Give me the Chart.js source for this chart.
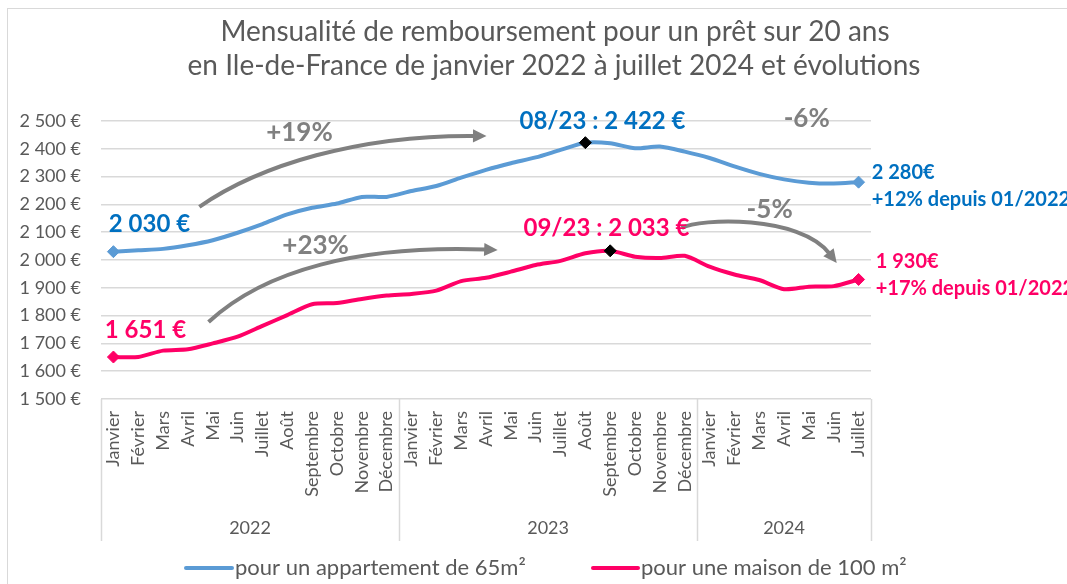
<!DOCTYPE html>
<html>
<head>
<meta charset="utf-8">
<script src="https://cdn.jsdelivr.net/npm/chart.js@4.4.1/dist/chart.umd.min.js"></script>
<style>
  html, body { margin: 0; padding: 0; background: #ffffff; }
  #wrap { position: relative; width: 1067px; height: 584px; }
</style>
</head>
<body>
<div id="wrap"><canvas id="chart"></canvas></div>
<script>
// Data
const years = ['2022', '2023', '2024'];
const yearMonths = [12, 12, 7];
const months = ['Janvier', 'Février', 'Mars', 'Avril', 'Mai', 'Juin', 'Juillet', 'Août',
  'Septembre', 'Octobre', 'Novembre', 'Décembre'];
const labels = years.flatMap((y, i) => months.slice(0, yearMonths[i]));

const appartement = [2030, 2035, 2040, 2053, 2071, 2098, 2129, 2164, 2188, 2203, 2227, 2227,
  2248, 2266, 2296, 2324, 2348, 2369, 2396, 2422, 2420, 2402, 2408, 2390,
  2367, 2337, 2310, 2290, 2278, 2275, 2280];
const maison = [1651, 1651, 1674, 1679, 1700, 1724, 1763, 1802, 1841, 1845, 1860, 1872,
  1878, 1890, 1924, 1936, 1958, 1982, 1997, 2024, 2033, 2012, 2007, 2015,
  1976, 1948, 1928, 1895, 1904, 1906, 1930];
const seriesNames = ['pour un appartement de 65m²', 'pour une maison de 100 m²'];
const peakIndex = [19, 20];

const yMin = 1500, yMax = 2500, yStep = 100;

// Colours
const BLUE_LINE = '#5B9BD5';
const BLUE_TEXT = '#0070C0';
const RED = '#FF0066';
const GREY = '#808080';
const TEXT = '#595959';
const GRID = '#D9D9D9';
const FONT = 'Lato, "Open Sans", sans-serif';

// Annotations, anchored in (category index, value) space
const notes = [
  { text: '2 030 €', at: [1.45, 2129], color: BLUE_TEXT, size: 24, align: 'center' },
  { text: '1 651 €', at: [1.29, 1748], color: RED, size: 24, align: 'center' },
  { text: '08/23 : 2 422 €', at: [19.69, 2500], color: BLUE_TEXT, size: 24, align: 'center' },
  { text: '09/23 : 2 033 €', at: [19.85, 2115], color: RED, size: 24, align: 'center' },
  { text: '+19%', at: [7.49, 2457], color: GREY, size: 26, align: 'center' },
  { text: '+23%', at: [8.14, 2050], color: GREY, size: 26, align: 'center' },
  { text: '-6%', at: [27.91, 2507], color: GREY, size: 26, align: 'center' },
  { text: '-5%', at: [26.42, 2180], color: GREY, size: 26, align: 'center' },
  { text: '2 280€', at: [30.53, 2313], color: BLUE_TEXT, size: 20, align: 'left' },
  { text: '+12% depuis 01/2022', at: [30.53, 2216], color: BLUE_TEXT, size: 20, align: 'left' },
  { text: '1 930€', at: [30.69, 1993], color: RED, size: 20, align: 'left' },
  { text: '+17% depuis 01/2022', at: [30.69, 1899], color: RED, size: 20, align: 'left' }
];
const arrows = [
  { from: [3.46, 2191], c1: [5.88, 2342], c2: [9.91, 2450], to: [15.02, 2446] },
  { from: [3.83, 1777], c1: [6.08, 1964], c2: [9.91, 2054], to: [15.47, 2036] },
  { from: [22.88, 2115], c1: [23.60, 2151], c2: [27.63, 2162], to: [29.12, 1989] }
];

function euro(v) {
  return String(v).replace(/\B(?=(\d{3})+(?!\d))/g, ' ') + ' €';
}

const extras = {
  id: 'extras',
  beforeDraw(chart) {
    const c = chart.ctx;
    c.save();
    c.fillStyle = '#ffffff';
    c.fillRect(0, 0, chart.width, chart.height);
    // frame of the chart object
    c.strokeStyle = GRID;
    c.lineWidth = 1;
    c.strokeRect(7.5, 8.5, chart.width + 10, chart.height + 10);
    c.restore();
  },
  afterDraw(chart) {
    const c = chart.ctx;
    const xs = chart.scales.x, ys = chart.scales.y;
    const area = chart.chartArea;
    const px = p => [xs.getPixelForValue(p[0]), ys.getPixelForValue(p[1])];
    c.save();

    // title
    c.fillStyle = TEXT;
    c.font = '28px ' + FONT;
    c.textAlign = 'center';
    c.textBaseline = 'alphabetic';
    c.fillText('Mensualité de remboursement pour un prêt sur 20 ans', 555, 41);
    c.fillText('en Ile-de-France de janvier 2022 à juillet 2024 et évolutions', 554, 75);

    // year boxes below the month labels
    const boxBottom = 541;
    c.strokeStyle = GRID;
    c.lineWidth = 1.5;
    let start = 0;
    const edges = [-0.5];
    yearMonths.forEach(n => { start += n; edges.push(start - 0.5); });
    edges.forEach(e => {
      const x = Math.round(xs.getPixelForValue(e)) + 0.5;
      c.beginPath();
      c.moveTo(x, area.bottom);
      c.lineTo(x, boxBottom);
      c.stroke();
    });
    c.fillStyle = TEXT;
    c.font = '18px ' + FONT;
    c.textBaseline = 'middle';
    years.forEach((y, i) => {
      const mid = (xs.getPixelForValue(edges[i]) + xs.getPixelForValue(edges[i + 1])) / 2;
      c.fillText(y, mid, 528);
    });

    // arrows
    c.strokeStyle = GREY;
    c.fillStyle = GREY;
    c.lineWidth = 4;
    arrows.forEach(a => {
      const p0 = px(a.from), p1 = px(a.c1), p2 = px(a.c2), p3 = px(a.to);
      const ang = Math.atan2(p3[1] - p2[1], p3[0] - p2[0]);
      const head = 15;
      const endX = p3[0] - Math.cos(ang) * head * 0.8;
      const endY = p3[1] - Math.sin(ang) * head * 0.8;
      c.beginPath();
      c.moveTo(p0[0], p0[1]);
      c.bezierCurveTo(p1[0], p1[1], p2[0], p2[1], endX, endY);
      c.stroke();
      c.beginPath();
      c.moveTo(p3[0], p3[1]);
      c.lineTo(p3[0] - Math.cos(ang - 0.45) * head, p3[1] - Math.sin(ang - 0.45) * head);
      c.lineTo(p3[0] - Math.cos(ang + 0.45) * head, p3[1] - Math.sin(ang + 0.45) * head);
      c.closePath();
      c.fill();
    });

    // text notes
    c.textBaseline = 'middle';
    notes.forEach(n => {
      const p = px(n.at);
      c.fillStyle = n.color;
      c.font = 'bold ' + n.size + 'px ' + FONT;
      c.textAlign = n.align;
      c.fillText(n.text, p[0], p[1]);
    });

    // legend
    const legendY = 568;
    const items = [
      { name: seriesNames[0], color: BLUE_LINE, x0: 186, x1: 232 },
      { name: seriesNames[1], color: RED, x0: 593, x1: 638 }
    ];
    c.font = '22px ' + FONT;
    c.textAlign = 'left';
    items.forEach(it => {
      c.strokeStyle = it.color;
      c.lineWidth = 4;
      c.lineCap = 'round';
      c.beginPath();
      c.moveTo(it.x0, legendY);
      c.lineTo(it.x1, legendY);
      c.stroke();
      c.fillStyle = TEXT;
      c.fillText(it.name, it.x1 + 3, legendY);
    });
    c.restore();
  }
};

function markerRadius(peak) {
  return ctx => (ctx.dataIndex === 0 || ctx.dataIndex === labels.length - 1 || ctx.dataIndex === peak) ? 6 : 0;
}
function markerColor(color, peak) {
  return ctx => ctx.dataIndex === peak ? '#000000' : color;
}

new Chart(document.getElementById('chart'), {
  type: 'line',
  data: {
    labels: labels,
    datasets: [
      {
        label: seriesNames[0],
        data: appartement,
        borderColor: BLUE_LINE,
        backgroundColor: BLUE_LINE,
        borderWidth: 4,
        tension: 0.25,
        pointStyle: 'rectRot',
        pointRadius: markerRadius(peakIndex[0]),
        pointBackgroundColor: markerColor(BLUE_LINE, peakIndex[0]),
        pointBorderColor: markerColor(BLUE_LINE, peakIndex[0]),
        pointBorderWidth: 1
      },
      {
        label: seriesNames[1],
        data: maison,
        borderColor: RED,
        backgroundColor: RED,
        borderWidth: 4,
        tension: 0.25,
        pointStyle: 'rectRot',
        pointRadius: markerRadius(peakIndex[1]),
        pointBackgroundColor: markerColor(RED, peakIndex[1]),
        pointBorderColor: markerColor(RED, peakIndex[1]),
        pointBorderWidth: 1
      }
    ]
  },
  options: {
    responsive: true,
    maintainAspectRatio: false,
    animation: false,
    layout: { padding: { top: 121, left: 0, right: 196, bottom: 43 } },
    plugins: {
      legend: { display: false },
      title: { display: false },
      tooltip: { enabled: false }
    },
    scales: {
      x: {
        offset: true,
        grid: { display: false, drawTicks: false },
        border: { display: false },
        ticks: {
          autoSkip: false,
          minRotation: 90,
          maxRotation: 90,
          padding: 12,
          color: TEXT,
          font: { family: FONT, size: 18 }
        },
        afterFit: s => { s.height = 142; }
      },
      y: {
        min: yMin,
        max: yMax,
        grid: { color: GRID, lineWidth: 1.5, drawTicks: false },
        border: { display: false },
        ticks: {
          stepSize: yStep,
          padding: 20,
          color: TEXT,
          font: { family: FONT, size: 18 },
          callback: v => euro(v)
        },
        afterFit: s => { s.width = 101; }
      }
    }
  },
  plugins: [extras]
});
</script>
</body>
</html>
